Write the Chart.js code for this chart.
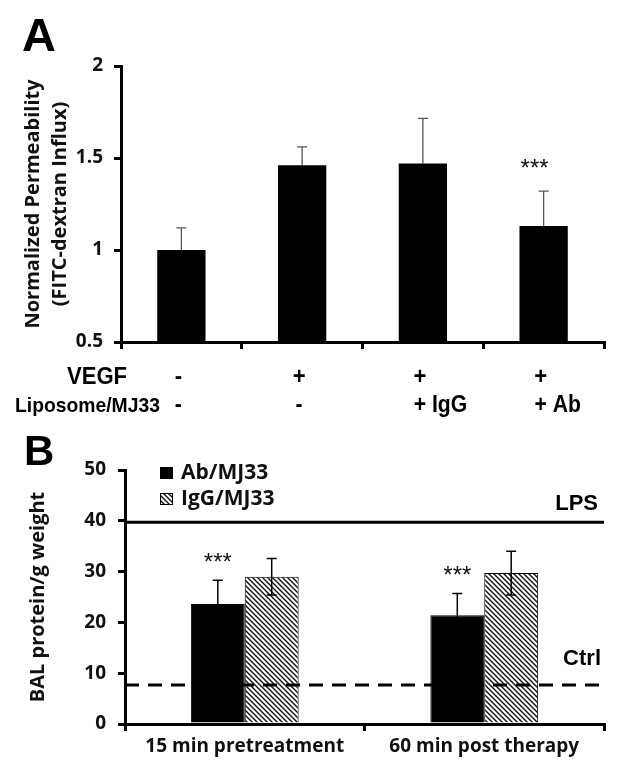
<!DOCTYPE html>
<html>
<head>
<meta charset="utf-8">
<script src="https://cdn.jsdelivr.net/npm/chart.js@4.4.0/dist/chart.umd.min.js"></script>
<style>
  body { margin: 0; background: #fff; }
  #wrapA { position: absolute; left: 0; top: 0; width: 621px; height: 420px; }
  #wrapB { position: absolute; left: 0; top: 400px; width: 621px; height: 374px; }
</style>
</head>
<body>
<div id="wrapA"><canvas id="permChart" width="621" height="420"></canvas></div>
<div id="wrapB"><canvas id="balChart" width="621" height="374"></canvas></div>
<script>
// Panel A - permeability
const groupsA = ['g1', 'g2', 'g3', 'g4'];
const permValues = [1.0, 1.46, 1.47, 1.13];
const permErrors = [0.12, 0.10, 0.245, 0.19];
const permTicks = [0.5, 1, 1.5, 2];
const permStars = ['', '', '', '***'];
const vegfRow = ['-', '+', '+', '+'];
const liposomeRow = ['-', '-', '+ IgG', '+ Ab'];

// Panel B - BAL protein
const timepoints = ['15 min pretreatment', '60 min post therapy'];
const abValues = [23.6, 21.4];
const abErrors = [4.7, 4.3];
const iggValues = [29.0, 29.7];
const iggErrors = [3.6, 4.3];
const balTicks = [0, 10, 20, 30, 40, 50];
const abStars = ['***', '***'];
const lpsLevel = 39.7;
const ctrlLevel = 7.7;

const calibriLike = 'Open Sans';

function makeHatch() {
    const c = document.createElement('canvas');
    c.width = 5; c.height = 5;
    const g = c.getContext('2d');
    g.fillStyle = '#fff';
    g.fillRect(0, 0, 5, 5);
    g.strokeStyle = '#111';
    g.lineWidth = 1.4;
    g.beginPath();
    g.moveTo(-1, -1); g.lineTo(6, 6);
    g.moveTo(-1, 4); g.lineTo(1, 6);
    g.moveTo(4, -1); g.lineTo(6, 1);
    g.stroke();
    return g.createPattern(c, 'repeat');
}

// slightly condensed text (no narrow font installed, so squeeze Liberation Sans)
const squeeze = 0.92;
function narrowText(ctx, text, x, y, size) {
    ctx.save();
    ctx.font = 'bold ' + size + 'px "Liberation Sans"';
    ctx.translate(x, y);
    ctx.scale(squeeze, 1);
    ctx.textAlign = 'left';
    ctx.fillText(text, 0, 0);
    ctx.restore();
}
function narrowWidth(ctx, text, size) {
    ctx.save();
    ctx.font = 'bold ' + size + 'px "Liberation Sans"';
    const w = ctx.measureText(text).width * squeeze;
    ctx.restore();
    return w;
}

// error bars + stars, read from each dataset
const errorBars = {
    id: 'errorBars',
    afterDatasetsDraw(chart, args, opts) {
        const ctx = chart.ctx;
        const y = chart.scales.y;
        ctx.save();
        chart.data.datasets.forEach((ds, di) => {
            const meta = chart.getDatasetMeta(di);
            meta.data.forEach((bar, i) => {
                const v = ds.data[i];
                const e = ds.errors[i];
                const top = y.getPixelForValue(v + e);
                const bottom = opts.both ? y.getPixelForValue(v - e) : bar.y;
                ctx.strokeStyle = opts.color;
                ctx.lineWidth = opts.width;
                ctx.beginPath();
                ctx.moveTo(bar.x, top); ctx.lineTo(bar.x, bottom);
                ctx.moveTo(bar.x - 5, top); ctx.lineTo(bar.x + 5, top);
                if (opts.both) { ctx.moveTo(bar.x - 5, bottom); ctx.lineTo(bar.x + 5, bottom); }
                ctx.stroke();
                if (ds.stars && ds.stars[i]) {
                    ctx.fillStyle = '#111';
                    ctx.font = '24px "Liberation Sans"';
                    ctx.textAlign = 'center';
                    ctx.textBaseline = 'alphabetic';
                    ctx.fillText(ds.stars[i], bar.x + opts.starDx, top - opts.starGap);
                }
            });
        });
        ctx.restore();
    }
};

// "A" label and the VEGF / Liposome table under panel A
const permExtras = {
    id: 'permExtras',
    afterDraw(chart) {
        const ctx = chart.ctx;
        const x = chart.scales.x;
        ctx.save();
        ctx.fillStyle = '#000';
        ctx.textBaseline = 'alphabetic';
        ctx.textAlign = 'left';
        ctx.font = 'bold 47px "Liberation Sans"';
        ctx.fillText('A', 22, 51);

        ctx.textBaseline = 'middle';
        narrowText(ctx, 'VEGF', 97 - narrowWidth(ctx, 'VEGF', 24) / 2, 377, 24);
        vegfRow.forEach((t, i) => {
            const cx = x.getPixelForValue(i) - 3;
            narrowText(ctx, t, cx - narrowWidth(ctx, t[0], 24) / 2, 377, 24);
        });
        narrowText(ctx, 'Liposome/MJ33', 15, 406, 21);
        liposomeRow.forEach((t, i) => {
            const cx = x.getPixelForValue(i) - 3;
            narrowText(ctx, t, cx - narrowWidth(ctx, t[0], 23) / 2, 406, 23);
        });
        ctx.restore();
    }
};

// "B" label, legend, LPS and Ctrl reference lines
const balExtras = {
    id: 'balExtras',
    afterDatasetsDraw(chart) {
        const ctx = chart.ctx;
        const area = chart.chartArea;
        const y = chart.scales.y;
        ctx.save();
        const yLps = y.getPixelForValue(lpsLevel);
        ctx.strokeStyle = '#000';
        ctx.lineWidth = 3;
        ctx.beginPath();
        ctx.moveTo(area.left, yLps); ctx.lineTo(area.right, yLps);
        ctx.stroke();
        const yCtrl = y.getPixelForValue(ctrlLevel);
        ctx.setLineDash([14, 9]);
        ctx.beginPath();
        ctx.moveTo(area.left, yCtrl); ctx.lineTo(area.right, yCtrl);
        ctx.stroke();
        ctx.setLineDash([]);

        ctx.fillStyle = '#000';
        ctx.font = 'bold 22px "Liberation Sans"';
        ctx.textAlign = 'right';
        ctx.textBaseline = 'alphabetic';
        ctx.fillText('LPS', area.right - 6, yLps - 12);
        ctx.fillText('Ctrl', area.right - 3, yCtrl - 20);
        ctx.restore();
    },
    afterDraw(chart) {
        const ctx = chart.ctx;
        ctx.save();
        ctx.fillStyle = '#000';
        ctx.textAlign = 'left';
        ctx.textBaseline = 'alphabetic';
        ctx.font = 'bold 42px "Liberation Sans"';
        ctx.fillText('B', 24, 65);

        ctx.font = 'bold 21px "' + calibriLike + '"';
        ctx.textBaseline = 'middle';
        chart.data.datasets.forEach((ds, i) => {
            const by = 67 + i * 26;
            ctx.fillStyle = ds.backgroundColor;
            ctx.fillRect(160, by, 13, 12);
            ctx.strokeStyle = '#000';
            ctx.lineWidth = 1;
            ctx.strokeRect(160.5, by + 0.5, 12, 11);
            ctx.fillStyle = '#111';
            ctx.fillText(ds.label, 181, by + 6);
        });
        ctx.restore();
    }
};

const tickFont = { family: calibriLike, size: 19, weight: 'bold' };

const permCtx = document.getElementById('permChart').getContext('2d');
const permChart = new Chart(permCtx, {
    type: 'bar',
    data: {
        labels: groupsA,
        datasets: [{
            data: permValues,
            errors: permErrors,
            stars: permStars,
            backgroundColor: '#000',
            barPercentage: 0.4,
            categoryPercentage: 1
        }]
    },
    options: {
        responsive: false,
        animation: false,
        layout: { padding: { top: 66, right: 17, left: 0, bottom: 0 } },
        plugins: {
            legend: { display: false },
            tooltip: { enabled: false },
            errorBars: { color: '#555', width: 1.3, both: false, starDx: -9, starGap: 15 }
        },
        scales: {
            x: {
                grid: { offset: true, drawOnChartArea: false, color: '#000', lineWidth: 3, tickLength: 7 },
                border: { color: '#000', width: 3 },
                ticks: { display: false },
                afterFit: s => { s.height = 78; }
            },
            y: {
                min: 0.5,
                max: 2,
                afterBuildTicks: s => { s.ticks = permTicks.map(v => ({ value: v })); },
                grid: { drawOnChartArea: false, color: '#000', lineWidth: 3, tickLength: 7 },
                border: { color: '#000', width: 3 },
                ticks: { color: '#111', font: tickFont, padding: 11, callback: v => String(v) },
                title: {
                    display: true,
                    text: ['Normalized Permeability', '(FITC-dextran Influx)'],
                    color: '#111',
                    font: { family: calibriLike, size: 20, weight: 'bold', lineHeight: 1.35 },
                    padding: { top: 20, bottom: 0 }
                },
                afterFit: s => { s.width = 121; }
            }
        }
    },
    plugins: [errorBars, permExtras]
});

const hatch = makeHatch();
const balCtx = document.getElementById('balChart').getContext('2d');
const balChart = new Chart(balCtx, {
    type: 'bar',
    data: {
        labels: timepoints,
        datasets: [{
            label: 'Ab/MJ33',
            data: abValues,
            errors: abErrors,
            stars: abStars,
            backgroundColor: '#000',
            borderColor: '#000',
            borderWidth: 1
        }, {
            label: 'IgG/MJ33',
            data: iggValues,
            errors: iggErrors,
            backgroundColor: hatch,
            borderColor: '#000',
            borderWidth: 1
        }]
    },
    options: {
        responsive: false,
        animation: false,
        datasets: { bar: { barPercentage: 1, categoryPercentage: 0.45 } },
        layout: { padding: { top: 70, right: 17, left: 0, bottom: 0 } },
        plugins: {
            legend: { display: false },
            tooltip: { enabled: false },
            errorBars: { color: '#000', width: 1.5, both: true, starDx: 0, starGap: 10 }
        },
        scales: {
            x: {
                grid: { offset: true, drawOnChartArea: false, color: '#000', lineWidth: 3, tickLength: 7 },
                border: { color: '#000', width: 3 },
                ticks: { color: '#111', font: { family: calibriLike, size: 19, weight: 'bold' }, padding: 4, maxRotation: 0 },
                afterFit: s => { s.height = 50; }
            },
            y: {
                min: 0,
                max: 50,
                afterBuildTicks: s => { s.ticks = balTicks.map(v => ({ value: v })); },
                grid: { drawOnChartArea: false, color: '#000', lineWidth: 3, tickLength: 7 },
                border: { color: '#000', width: 3 },
                ticks: { color: '#111', font: tickFont, padding: 12 },
                title: {
                    display: true,
                    text: 'BAL protein/g weight',
                    color: '#111',
                    font: { family: calibriLike, size: 20, weight: 'bold', lineHeight: 1.2 },
                    padding: { top: 26, bottom: 0 }
                },
                afterFit: s => { s.width = 125; }
            }
        }
    },
    plugins: [errorBars, balExtras]
});
</script>
</body>
</html>
